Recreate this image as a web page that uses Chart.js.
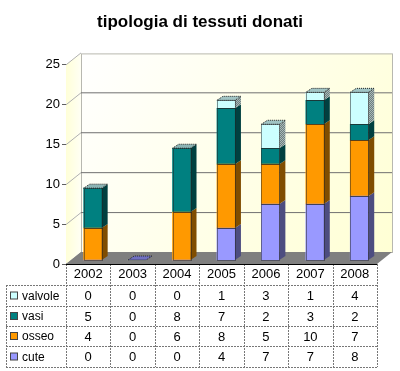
<!DOCTYPE html>
<html>
<head>
<meta charset="utf-8">
<style>body { margin: 0; background: #fff; } canvas { display: block; }</style>
<script src="https://cdn.jsdelivr.net/npm/chart.js@4"></script>
</head>
<body>
<canvas id="myChart" width="400" height="371"></canvas>
<script>
var years = ['2002', '2003', '2004', '2005', '2006', '2007', '2008'];
var cute = [0, 0, 0, 4, 7, 7, 8];
var osseo = [4, 0, 6, 8, 5, 10, 7];
var vasi = [5, 0, 8, 7, 2, 3, 2];
var valvole = [0, 0, 0, 1, 3, 1, 4];
var yTicks = [0, 5, 10, 15, 20, 25];

var fontName = '"Liberation Sans", Arial, sans-serif';
var wallDx = 15, wallDy = 12;   // depth of the walls
var barDx = 6, barDy = 4;       // depth of the bars
var rowLines = [264, 285, 306, 326, 346, 367];

var ctx = document.getElementById('myChart').getContext('2d');

function dither() {
  var c = document.createElement('canvas');
  c.width = 2; c.height = 2;
  var g = c.getContext('2d');
  g.fillStyle = '#6f7f7f';
  g.fillRect(0, 0, 2, 2);
  g.fillStyle = '#a8b8b8';
  g.fillRect(0, 0, 1, 1);
  g.fillRect(1, 1, 1, 1);
  return ctx.createPattern(c, 'repeat');
}

var series = [
  { label: 'cute', data: cute, color: '#9999ff', side: '#4d4d80', top: '#7070c0' },
  { label: 'osseo', data: osseo, color: '#ff9900', side: '#804d00', top: '#c08030' },
  { label: 'vasi', data: vasi, color: '#008080', side: '#004040', top: '#8cb4b4' },
  { label: 'valvole', data: valvole, color: '#ccffff', side: dither(), top: '#a0c4c4' }
];

function poly(c, pts, fill) {
  c.beginPath();
  c.moveTo(pts[0][0], pts[0][1]);
  for (var i = 1; i < pts.length; i++) c.lineTo(pts[i][0], pts[i][1]);
  c.closePath();
  if (fill) { c.fillStyle = fill; c.fill(); }
}

// walls, floor and gridlines behind the bars
var wallsPlugin = {
  id: 'walls',
  beforeDatasetsDraw: function (chart) {
    var c = chart.ctx, a = chart.chartArea, y = chart.scales.y;
    var bx = a.left + wallDx, bxr = a.right + wallDx;
    var by = a.bottom - wallDy, byt = a.top - wallDy + 1;
    c.save();
    var g = c.createLinearGradient(a.left, 0, bx, 0);
    g.addColorStop(0, '#ffffd8');
    g.addColorStop(1, '#fffff4');
    poly(c, [[a.left, a.top], [bx, byt], [bx, by], [a.left, a.bottom]], g);
    g = c.createLinearGradient(bx, byt, bxr, by);
    g.addColorStop(0, '#ffffff');
    g.addColorStop(1, '#ffffd4');
    poly(c, [[bx, byt], [bxr, byt], [bxr, by], [bx, by]], g);
    c.lineWidth = 1;
    c.strokeStyle = '#b8b8b0';
    c.strokeRect(bx + 0.5, byt + 0.5, bxr - bx, by - byt);
    yTicks.forEach(function (t) {
      var py = y.getPixelForValue(t);
      c.strokeStyle = '#b0b0b0';
      c.beginPath();
      c.moveTo(a.left, py + 0.5);
      c.lineTo(bx, py - wallDy + 0.5);
      c.stroke();
      if (t > 0 && t < 25) {
        c.strokeStyle = '#707070';
        c.beginPath();
        c.moveTo(bx, py - wallDy + 0.5);
        c.lineTo(bxr, py - wallDy + 0.5);
        c.stroke();
      }
    });
    poly(c, [[a.left, a.bottom], [bx, by], [bxr, by], [a.right, a.bottom]], '#7f7f7f');
    c.restore();
  },
  // bar sides, tops and the dotted outlines
  afterDatasetsDraw: function (chart) {
    var c = chart.ctx;
    c.save();
    c.lineWidth = 1;
    years.forEach(function (yr, i) {
      var topSeries = -1;
      series.forEach(function (s, k) {
        var bar = chart.getDatasetMeta(k).data[i];
        var x1 = bar.x + bar.width / 2;
        if (s.data[i] > 0) {
          topSeries = k;
          poly(c, [[x1, bar.base], [x1 + barDx, bar.base - barDy], [x1 + barDx, bar.y - barDy], [x1, bar.y]], s.side);
        }
      });
      var last = chart.getDatasetMeta(Math.max(topSeries, 0)).data[i];
      var lx0 = last.x - last.width / 2, lx1 = last.x + last.width / 2;
      var topFill = topSeries < 0 ? series[0].top : series[topSeries].top;
      poly(c, [[lx0, last.y], [lx0 + barDx, last.y - barDy], [lx1 + barDx, last.y - barDy], [lx1, last.y]], topFill);
      c.strokeStyle = '#222';
      c.setLineDash([1, 1]);
      c.stroke();
      series.forEach(function (s, k) {
        if (s.data[i] === 0) return;
        var bar = chart.getDatasetMeta(k).data[i];
        var x0 = bar.x - bar.width / 2;
        c.strokeRect(Math.round(x0) + 0.5, Math.round(bar.y) + 0.5, Math.round(bar.width), Math.round(bar.base - bar.y));
      });
      c.setLineDash([]);
    });
    c.restore();
  },
  // the data table under the plot
  afterDraw: function (chart) {
    var c = chart.ctx, a = chart.chartArea, x = chart.scales.x;
    var step = (a.right - a.left) / years.length;
    c.save();
    c.lineWidth = 1;
    c.strokeStyle = '#777';
    c.setLineDash([2, 1]);
    rowLines.forEach(function (ry, r) {
      if (r === 0) return;
      c.beginPath();
      c.moveTo(6, ry + 0.5);
      c.lineTo(a.right, ry + 0.5);
      c.stroke();
    });
    for (var i = 0; i <= years.length; i++) {
      var vx = Math.round(a.left + i * step) + 0.5;
      c.beginPath();
      c.moveTo(vx, rowLines[0]);
      c.lineTo(vx, rowLines[5]);
      c.stroke();
    }
    c.beginPath();
    c.moveTo(6.5, rowLines[1]);
    c.lineTo(6.5, rowLines[5]);
    c.stroke();
    c.setLineDash([]);
    c.strokeStyle = '#000';
    c.beginPath();
    c.moveTo(a.left, a.bottom + 0.5);
    c.lineTo(a.right, a.bottom + 0.5);
    c.stroke();
    c.textBaseline = 'middle';
    // rows go top to bottom: valvole first, cute last
    series.slice().reverse().forEach(function (s, r) {
      var cy = (rowLines[r + 1] + rowLines[r + 2]) / 2;
      c.fillStyle = s.color;
      c.fillRect(10.5, cy - 3.5, 7, 7);
      c.strokeStyle = '#444';
      c.strokeRect(10.5, cy - 3.5, 7, 7);
      c.fillStyle = '#000';
      c.textAlign = 'left';
      c.font = '12px ' + fontName;
      c.fillText(s.label, 22, cy + 1);
      c.textAlign = 'center';
      c.font = '13px ' + fontName;
      s.data.forEach(function (v, i) {
        c.fillText(String(v), x.getPixelForValue(i), cy + 1);
      });
    });
    c.restore();
  }
};

var myChart = new Chart(ctx, {
  type: 'bar',
  data: {
    labels: years,
    datasets: series.map(function (s) {
      return {
        label: s.label,
        data: s.data,
        backgroundColor: s.color,
        barThickness: 18,
        xAxisID: 'xBars',
        yAxisID: 'yBars'
      };
    })
  },
  plugins: [wallsPlugin],
  options: {
    responsive: false,
    animation: false,
    scales: {
      x: {
        type: 'category',
        offset: true,
        position: 'bottom',
        afterFit: function (s) { s.height = 107; },
        grid: { display: false, drawTicks: false },
        border: { display: false },
        ticks: { color: '#000', font: { size: 13, family: fontName }, padding: 3, maxRotation: 0 }
      },
      y: {
        type: 'linear',
        position: 'left',
        min: 0,
        max: 25,
        afterFit: function (s) { s.width = 66; },
        grid: { drawOnChartArea: false, drawTicks: true, tickLength: 4, color: '#606060' },
        border: { display: true, color: '#606060' },
        ticks: { stepSize: 5, color: '#000', font: { size: 13, family: fontName }, padding: 2 }
      },
      // empty axis that only keeps the space right of the plot, so the title stays centred on the page
      yRight: {
        type: 'linear',
        position: 'right',
        afterFit: function (s) { s.width = 23; },
        grid: { display: false },
        border: { display: false },
        ticks: { display: false }
      },
      // bars stand a little inside the floor, so they get their own hidden axes
      xBars: { type: 'linear', display: false, stacked: true, offset: false, min: 2001.4, max: 2008.4 },
      yBars: { type: 'linear', display: false, stacked: true, min: -0.5, max: 24.5 }
    },
    plugins: {
      legend: { display: false },
      tooltip: { enabled: false },
      title: {
        display: true,
        text: 'tipologia di tessuti donati',
        color: '#000',
        font: { size: 17, weight: 'bold', family: fontName },
        padding: { top: 12, bottom: 32 }
      }
    }
  }
});
</script>
</body>
</html>
